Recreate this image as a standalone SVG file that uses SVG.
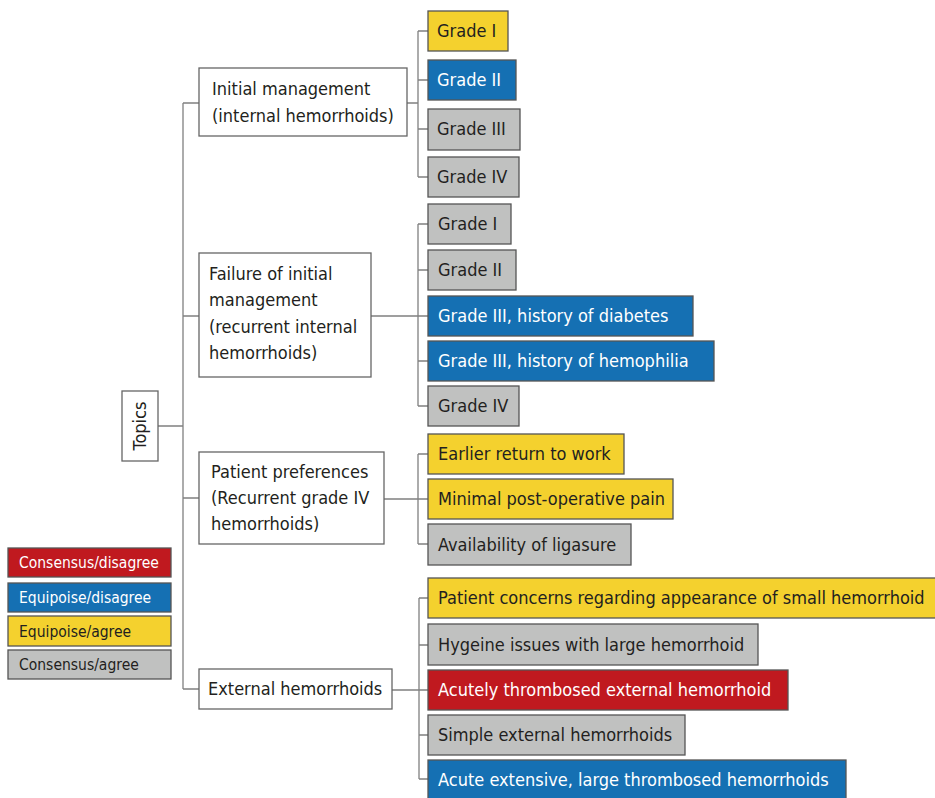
<svg xmlns="http://www.w3.org/2000/svg" width="935" height="798" viewBox="0 0 935 798">
<style>
text{font-family:"DejaVu Sans Condensed","DejaVu Sans",sans-serif;font-stretch:condensed;font-size:18px;fill:#231f20}
.w{fill:#fff}
.lg{font-size:15.5px}
rect{stroke:#555;stroke-width:1.3}
.node{fill:#fff;stroke:#666}
.y{fill:#f4d12e}
.b{fill:#1570b3}
.g{fill:#c0c1c0}
.r{fill:#c0191f}
.conn path{fill:none;stroke:#808080;stroke-width:1.3}
</style>
<g class="conn" id="connectors">
<path d="M158 426H183M183 103V689M183 103H199M183 316H199M183 498H199M183 689H199"/>
<path d="M407 103H418M418 31V177M418 31H428M418 80H428M418 129H428M418 177H428"/>
<path d="M371 316H428M418 224V406M418 224H428M418 270H428M418 361H428M418 406H428"/>
<path d="M384 499H428M418 454V544M418 454H428M418 544H428"/>
<path d="M392 690H428M419 598V779M419 598H428M419 645H428M419 735H428M419 779H428"/>
</g>
<g id="topics"><rect class="node" x="122" y="391" width="36" height="70"/><text transform="translate(146 426) rotate(-90)" text-anchor="middle">Topics</text></g>
<g id="initial"><rect class="node" x="199" y="68" width="208" height="68"/><text x="212" y="95">Initial management</text><text x="212" y="122">(internal hemorrhoids)</text></g>
<g id="failure"><rect class="node" x="199" y="253" width="172" height="124"/><text x="209" y="280">Failure of initial</text><text x="209" y="306">management</text><text x="209" y="333">(recurrent internal</text><text x="209" y="359">hemorrhoids)</text></g>
<g id="patient"><rect class="node" x="199" y="452" width="185" height="92"/><text x="211" y="478">Patient preferences</text><text x="211" y="504">(Recurrent grade IV</text><text x="211" y="530">hemorrhoids)</text></g>
<g id="external"><rect class="node" x="199" y="669" width="193" height="40"/><text x="208" y="695">External hemorrhoids</text></g>

<g id="im-g1"><rect class="y" x="428" y="11" width="80" height="40"/><text x="437" y="37">Grade I</text></g>
<g id="im-g2"><rect class="b" x="428" y="60" width="88" height="40"/><text class="w" x="437" y="86">Grade II</text></g>
<g id="im-g3"><rect class="g" x="428" y="109" width="92" height="41"/><text x="437" y="135">Grade III</text></g>
<g id="im-g4"><rect class="g" x="428" y="157" width="91" height="40"/><text x="437" y="183">Grade IV</text></g>

<g id="f-g1"><rect class="g" x="428" y="204" width="83" height="40"/><text x="438" y="230">Grade I</text></g>
<g id="f-g2"><rect class="g" x="428" y="250" width="88" height="40"/><text x="438" y="276">Grade II</text></g>
<g id="f-g3d"><rect class="b" x="428" y="296" width="265" height="40"/><text class="w" x="438" y="322">Grade III, history of diabetes</text></g>
<g id="f-g3h"><rect class="b" x="428" y="341" width="286" height="40"/><text class="w" x="438" y="367">Grade III, history of hemophilia</text></g>
<g id="f-g4"><rect class="g" x="428" y="386" width="91" height="40"/><text x="438" y="412">Grade IV</text></g>

<g id="p-work"><rect class="y" x="428" y="434" width="196" height="40"/><text x="438" y="460">Earlier return to work</text></g>
<g id="p-pain"><rect class="y" x="428" y="479" width="245" height="40"/><text x="438" y="505">Minimal post-operative pain</text></g>
<g id="p-liga"><rect class="g" x="428" y="524" width="203" height="41"/><text x="438" y="551">Availability of ligasure</text></g>

<g id="e-concern"><rect class="y" x="428" y="578" width="512" height="40"/><text x="438" y="604">Patient concerns regarding appearance of small hemorrhoid</text></g>
<g id="e-hyg"><rect class="g" x="428" y="624" width="330" height="41"/><text x="438" y="651">Hygeine issues with large hemorrhoid</text></g>
<g id="e-acute"><rect class="r" x="428" y="670" width="360" height="40"/><text class="w" x="438" y="696">Acutely thrombosed external hemorrhoid</text></g>
<g id="e-simple"><rect class="g" x="428" y="715" width="257" height="40"/><text x="438" y="741">Simple external hemorrhoids</text></g>
<g id="e-ext"><rect class="b" x="428" y="760" width="418" height="42"/><text class="w" x="438" y="786">Acute extensive, large thrombosed hemorrhoids</text></g>

<g id="legend">
<g id="leg-cd"><rect class="r" x="8" y="548" width="163" height="29"/><text class="lg w" x="19" y="568">Consensus/disagree</text></g>
<g id="leg-ed"><rect class="b" x="8" y="583" width="163" height="29"/><text class="lg w" x="19" y="603">Equipoise/disagree</text></g>
<g id="leg-ea"><rect class="y" x="8" y="616" width="163" height="30"/><text class="lg" x="19" y="637">Equipoise/agree</text></g>
<g id="leg-ca"><rect class="g" x="8" y="650" width="163" height="29"/><text class="lg" x="19" y="670">Consensus/agree</text></g>
</g>
</svg>
